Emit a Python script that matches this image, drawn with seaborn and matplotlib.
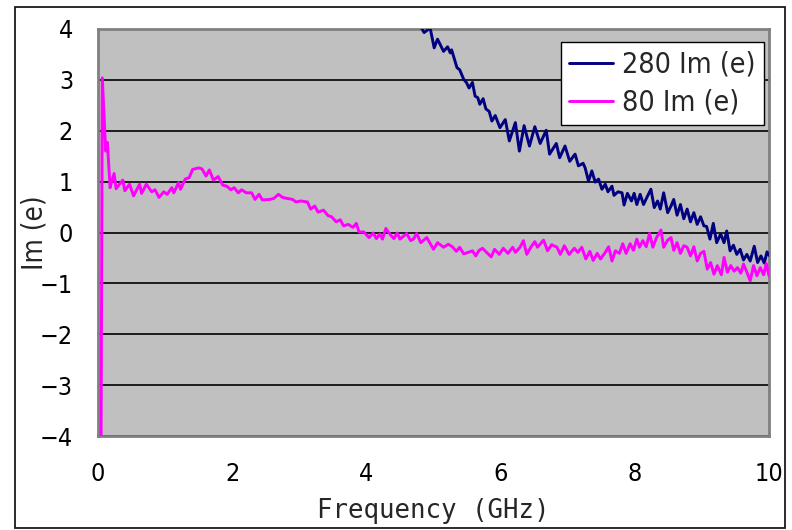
import matplotlib
matplotlib.use("Agg")
import matplotlib.pyplot as plt
import seaborn as sns
import pandas as pd
from matplotlib.patches import Rectangle
from matplotlib import font_manager as fm

# ---- data -------------------------------------------------------------
series_names = ["280 Im (e)", "80 Im (e)"]
series_colors = ["#000080", "#FF00FF"]

x_ticks = [0, 2, 4, 6, 8, 10]
y_ticks = [-4, -3, -2, -1, 0, 1, 2, 3, 4]
y_tick_labels = ["\u22124", "\u22123", "\u22122", "\u22121", "0", "1", "2", "3", "4"]

freq_280 = [
    4.70, 4.82, 4.86, 4.95, 5.01, 5.06, 5.15, 5.21, 5.25, 5.27,
    5.35, 5.39, 5.45, 5.49, 5.53, 5.58, 5.62, 5.66, 5.69, 5.74,
    5.78, 5.83, 5.87, 5.92, 5.99, 6.07, 6.13, 6.22, 6.28, 6.35,
    6.43, 6.51, 6.59, 6.68, 6.73, 6.83, 6.88, 6.96, 7.03, 7.11,
    7.16, 7.23, 7.26, 7.31, 7.36, 7.41, 7.46, 7.51, 7.56, 7.60,
    7.66, 7.69, 7.75, 7.81, 7.84, 7.89, 7.95, 7.99, 8.03, 8.08,
    8.13, 8.18, 8.24, 8.29, 8.34, 8.38, 8.43, 8.49, 8.54, 8.58,
    8.63, 8.68, 8.73, 8.78, 8.83, 8.88, 8.93, 8.98, 9.03, 9.07,
    9.12, 9.17, 9.22, 9.28, 9.33, 9.37, 9.42, 9.47, 9.52, 9.57,
    9.62, 9.67, 9.72, 9.78, 9.83, 9.88, 9.93, 9.97, 10.0,
]
im_280 = [
    4.40, 4.02, 3.93, 4.02, 3.63, 3.80, 3.56, 3.65, 3.53, 3.59,
    3.24, 3.20, 3.01, 2.95, 2.84, 2.95, 2.68, 2.65, 2.52, 2.63,
    2.43, 2.38, 2.19, 2.30, 2.06, 2.22, 1.80, 2.16, 1.60, 2.10,
    1.70, 2.08, 1.75, 2.01, 1.54, 1.75, 1.47, 1.70, 1.40, 1.54,
    1.31, 1.36, 1.27, 1.01, 1.21, 0.99, 1.05, 0.85, 0.95, 0.80,
    0.91, 0.73, 0.80, 0.78, 0.54, 0.77, 0.62, 0.77, 0.55, 0.75,
    0.55, 0.69, 0.85, 0.49, 0.62, 0.46, 0.78, 0.39, 0.52, 0.65,
    0.34, 0.55, 0.27, 0.46, 0.21, 0.39, 0.16, 0.31, 0.13, 0.12,
    -0.13, 0.18, -0.20, -0.03, -0.20, 0.03, -0.36, -0.25, -0.43, -0.33,
    -0.54, -0.43, -0.56, -0.27, -0.59, -0.46, -0.60, -0.38, -0.45,
]

freq_80 = [
    0.045, 0.064, 0.115, 0.14, 0.18, 0.20, 0.24, 0.27, 0.32, 0.37,
    0.40, 0.47, 0.53, 0.62, 0.65, 0.72, 0.80, 0.85, 0.91, 0.98,
    1.03, 1.10, 1.13, 1.20, 1.23, 1.30, 1.36, 1.41, 1.50, 1.55,
    1.61, 1.66, 1.72, 1.79, 1.86, 1.92, 1.98, 2.03, 2.09, 2.14,
    2.21, 2.29, 2.34, 2.40, 2.45, 2.56, 2.62, 2.69, 2.75, 2.82,
    2.90, 2.95, 3.02, 3.12, 3.17, 3.23, 3.28, 3.36, 3.43, 3.48,
    3.55, 3.61, 3.66, 3.73, 3.80, 3.85, 3.89, 3.96, 4.04, 4.10,
    4.15, 4.20, 4.24, 4.29, 4.36, 4.41, 4.46, 4.50, 4.60, 4.66,
    4.70, 4.75, 4.81, 4.90, 5.00, 5.06, 5.15, 5.22, 5.28, 5.34,
    5.39, 5.45, 5.52, 5.58, 5.63, 5.68, 5.73, 5.79, 5.86, 5.91,
    5.98, 6.04, 6.11, 6.18, 6.22, 6.29, 6.34, 6.39, 6.45, 6.51,
    6.55, 6.64, 6.70, 6.76, 6.84, 6.89, 6.95, 7.02, 7.10, 7.15,
    7.21, 7.27, 7.33, 7.38, 7.44, 7.49, 7.56, 7.61, 7.66, 7.71,
    7.77, 7.82, 7.87, 7.93, 7.98, 8.03, 8.07, 8.12, 8.17, 8.22,
    8.27, 8.32, 8.39, 8.43, 8.49, 8.54, 8.58, 8.63, 8.68, 8.73,
    8.78, 8.83, 8.88, 8.93, 8.98, 9.03, 9.08, 9.13, 9.18, 9.23,
    9.29, 9.33, 9.38, 9.43, 9.48, 9.53, 9.58, 9.62, 9.67, 9.72,
    9.77, 9.82, 9.87, 9.92, 9.96, 10.0,
]
im_80 = [
    -4.5, 3.04, 1.60, 1.77, 0.88, 0.98, 1.16, 0.86, 0.95, 1.03,
    0.82, 0.95, 0.72, 0.95, 0.77, 0.95, 0.80, 0.84, 0.69, 0.80,
    0.75, 0.88, 0.78, 0.98, 0.85, 1.05, 1.08, 1.24, 1.27, 1.25,
    1.11, 1.23, 1.03, 1.10, 0.93, 0.91, 0.84, 0.88, 0.78, 0.84,
    0.78, 0.78, 0.65, 0.75, 0.64, 0.65, 0.67, 0.75, 0.69, 0.67,
    0.65, 0.60, 0.62, 0.60, 0.46, 0.52, 0.40, 0.44, 0.33, 0.31,
    0.21, 0.25, 0.13, 0.16, 0.10, 0.18, 0.01, 0.01, -0.10, -0.01,
    -0.12, -0.03, -0.13, 0.08, -0.05, -0.12, -0.01, -0.13, -0.02, -0.16,
    -0.13, -0.02, -0.20, -0.10, -0.33, -0.20, -0.29, -0.23, -0.28, -0.37,
    -0.29, -0.42, -0.39, -0.36, -0.46, -0.35, -0.31, -0.39, -0.48, -0.33,
    -0.43, -0.31, -0.41, -0.29, -0.39, -0.29, -0.16, -0.43, -0.29, -0.18,
    -0.29, -0.15, -0.36, -0.24, -0.29, -0.43, -0.26, -0.43, -0.31, -0.39,
    -0.29, -0.52, -0.37, -0.55, -0.41, -0.52, -0.39, -0.28, -0.56, -0.36,
    -0.41, -0.22, -0.41, -0.22, -0.35, -0.13, -0.29, -0.16, -0.28, -0.02,
    -0.29, -0.11, 0.05, -0.29, -0.15, -0.10, -0.35, -0.20, -0.41, -0.26,
    -0.29, -0.46, -0.28, -0.56, -0.41, -0.37, -0.72, -0.59, -0.82, -0.65,
    -0.83, -0.49, -0.78, -0.65, -0.76, -0.69, -0.80, -0.62, -0.78, -0.95,
    -0.65, -0.85, -0.69, -0.83, -0.61, -0.85,
]

# ---- long-form table for seaborn --------------------------------------
df = pd.concat([
    pd.DataFrame({"Frequency": freq_280, "Im": im_280, "series": series_names[0]}),
    pd.DataFrame({"Frequency": freq_80, "Im": im_80, "series": series_names[1]}),
], ignore_index=True)

sns.set_theme(style="white")
plt.rcParams["font.family"] = ["Liberation Sans", "DejaVu Sans"]


def narrow_font():
    """Pick a condensed sans-serif face if one is installed."""
    wanted = ("condensed", "semi-condensed", "extra-condensed")
    best = None
    for f in fm.fontManager.ttflist:
        if f.style != "normal" or f.weight not in (400, "normal", "regular"):
            continue
        if "Narrow" in f.name or "Condensed" in f.name or f.stretch in wanted:
            if any(k in f.name for k in ("Liberation", "DejaVu", "Noto Sans", "Roboto",
                                          "Open Sans", "Lato", "Inter")):
                if "Mono" in f.name or "CJK" in f.name:
                    continue
                if best is None or "Liberation" in f.name:
                    best = f
    return best


nf = narrow_font()
if nf is not None:
    def fp(size):
        return fm.FontProperties(fname=nf.fname, size=size)
    tick_size, legend_size, ylab_size = 18, 20.5, 20
else:
    def fp(size):
        return fm.FontProperties(family=["Liberation Sans", "DejaVu Sans"], size=size)
    tick_size, legend_size, ylab_size = 16.5, 19, 19

W, H = 792, 530
fig = plt.figure(figsize=(W / 100, H / 100), dpi=100)
fig.patch.set_facecolor("white")

# outer chart frame
fig.patches.append(Rectangle((15 / W, 1 - 528 / H), (785 - 15) / W, (528 - 7) / H,
                             transform=fig.transFigure, fill=False,
                             edgecolor="#1a1a1a", lw=1.3, zorder=0))

ax = fig.add_axes([98 / W, 1 - 436 / H, (769 - 98) / W, (436 - 29) / H])
ax.set_facecolor("#C0C0C0")

sns.lineplot(data=df, x="Frequency", y="Im", hue="series", hue_order=series_names,
             palette=dict(zip(series_names, series_colors)), estimator=None,
             sort=False, linewidth=2.1, ax=ax, zorder=3)

ax.set_xlim(0, 10)
ax.set_ylim(-4, 4)
ax.set_xticks(x_ticks)
ax.set_xticklabels([str(t) for t in x_ticks], fontproperties=fp(tick_size))
ax.set_yticks(y_ticks)
ax.set_yticklabels(y_tick_labels, fontproperties=fp(tick_size))

ax.yaxis.grid(True, color="black", lw=1.2, zorder=1)
ax.xaxis.grid(False)
ax.set_axisbelow(True)

for s in ax.spines.values():
    s.set_color("#808080")
    s.set_linewidth(2.0)

ax.tick_params(axis="both", direction="in", color="#606060", width=1.0,
               labelcolor="black")
ax.tick_params(axis="y", length=7, pad=18)
ax.tick_params(axis="x", length=6, pad=19)

ax.set_xlabel("Frequency (GHz)",
              fontproperties=fm.FontProperties(family=["DejaVu Sans Mono", "DejaVu Sans"],
                                               size=18.5),
              labelpad=8)
ax.set_ylabel("Im (e)", fontproperties=fp(ylab_size), va="center")
ax.yaxis.set_label_coords(-(98 - 34) / (769 - 98), 0.5)

handles, labels = ax.get_legend_handles_labels()
leg = ax.legend(handles, labels, loc="upper right",
                bbox_to_anchor=(764 / W, 1 - 42 / H), bbox_transform=fig.transFigure,
                prop=fp(legend_size), frameon=True, fancybox=False, framealpha=1,
                edgecolor="black", facecolor="white", borderpad=0.3,
                labelspacing=0.35, handlelength=1.55, handletextpad=0.3,
                borderaxespad=0)
leg.get_frame().set_linewidth(1.0)
for line in leg.get_lines():
    line.set_linewidth(2.1)

fig.savefig("out.png", dpi=100)
